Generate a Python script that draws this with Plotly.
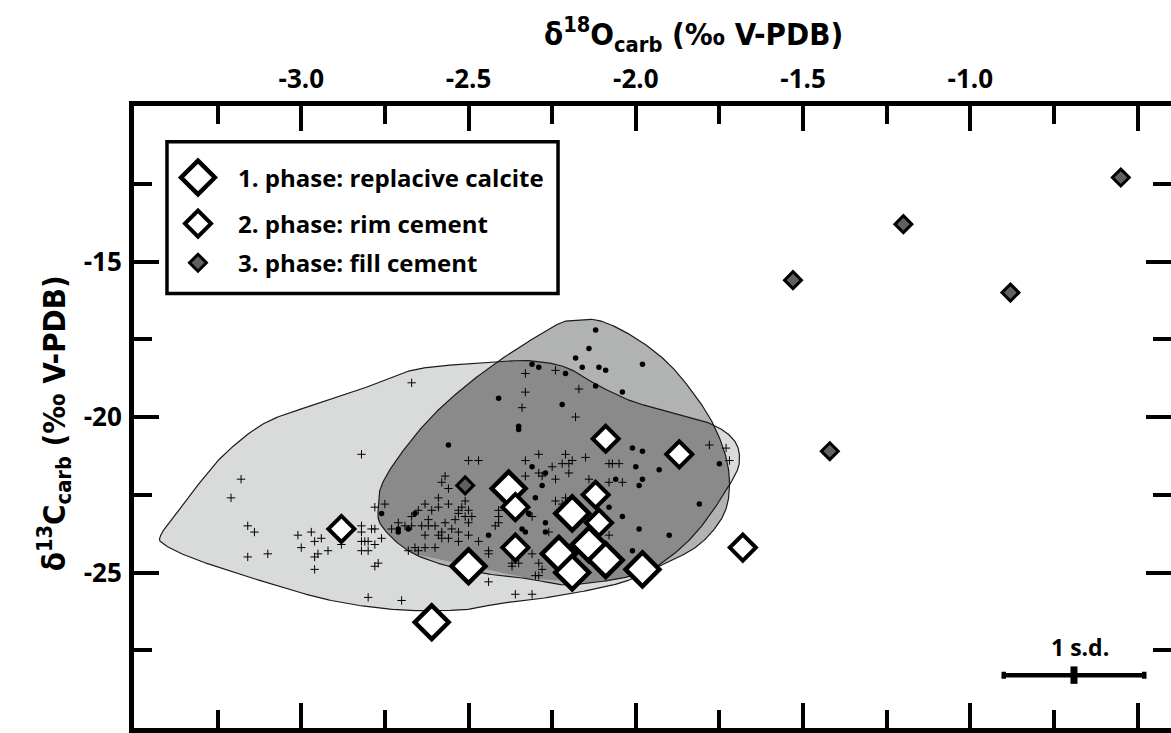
import numpy as np
import plotly.graph_objects as go

# ---------------- data ----------------
phase1_x = [-2.38, -2.50, -2.61, -2.19, -2.23, -2.14, -2.19, -2.09, -1.98]
phase1_y = [-22.3, -24.8, -26.6, -23.1, -24.4, -24.1, -25.0, -24.6, -24.9]

phase2_x = [-2.88, -2.36, -2.36, -2.09, -1.87, -2.12, -2.11, -1.68]
phase2_y = [-23.6, -22.9, -24.2, -20.7, -21.2, -22.5, -23.4, -24.2]

phase3_x = [-0.55, -1.20, -1.53, -0.88, -1.42, -2.51]
phase3_y = [-12.3, -13.8, -15.6, -16.0, -21.1, -22.2]

cross_x = [-2.67, -2.82, -3.18, -3.21, -3.16, -3.14, -3.16, -3.10, -3.01, -2.97,
           -3.00, -2.96, -2.94, -2.95, -2.96, -2.92, -2.96, -2.88, -2.82, -2.82,
           -2.79, -2.78, -2.82, -2.81, -2.80, -2.78, -2.76, -2.82, -2.80, -2.77,
           -2.78, -2.80, -2.70, -2.78, -2.75, -2.50, -2.47, -2.57, -2.58, -2.56,
           -2.63, -2.59, -2.61, -2.59, -2.56, -2.53, -2.52, -2.51, -2.53, -2.50,
           -2.49, -2.51, -2.50, -2.65, -2.62, -2.67, -2.71, -2.73, -2.69, -2.67,
           -2.64, -2.62, -2.63, -2.60, -2.59, -2.58, -2.57, -2.55, -2.54, -2.53,
           -2.58, -2.56, -2.53, -2.60, -2.66, -2.68, -2.65, -2.63, -2.50, -2.44,
           -2.47, -2.44, -2.36, -2.33, -2.33, -2.33, -2.34, -2.33, -2.41, -2.41,
           -2.42, -2.41, -2.44, -2.37, -2.24, -2.17, -2.18, -2.29, -2.21, -2.19,
           -2.22, -2.20, -2.20, -2.15, -2.25, -2.29, -2.28, -2.24, -2.08, -2.07,
           -2.05, -2.14, -2.08, -2.04, -2.24, -2.22, -2.21, -2.31, -2.26, -2.08,
           -1.78, -1.73, -1.72, -2.31, -2.37, -2.35, -2.29, -2.28, -2.29, -2.30,
           -2.31]
cross_y = [-18.9, -21.2, -22.0, -22.6, -23.5, -23.7, -24.5, -24.4, -23.8, -23.7,
           -24.2, -24.0, -23.9, -24.4, -24.5, -24.3, -24.9, -24.1, -23.5, -23.7,
           -23.6, -23.6, -24.0, -24.0, -24.0, -24.1, -23.9, -24.3, -24.3, -24.7,
           -24.8, -25.8, -25.9, -22.9, -22.8, -21.4, -21.4, -21.9, -22.1, -22.3,
           -22.8, -22.6, -23.0, -22.9, -22.8, -23.0, -22.9, -22.7, -23.1, -23.0,
           -23.2, -23.2, -23.4, -23.0, -23.3, -23.2, -23.4, -23.6, -23.5, -23.5,
           -23.5, -23.5, -23.8, -23.5, -23.8, -23.7, -23.4, -23.6, -23.3, -23.7,
           -23.9, -23.9, -24.0, -24.2, -24.2, -24.3, -24.3, -24.2, -23.8, -24.4,
           -24.0, -25.3, -25.7, -21.4, -18.6, -19.2, -19.7, -21.9, -23.0, -23.2,
           -23.5, -23.4, -24.3, -24.8, -18.5, -19.1, -20.0, -21.2, -21.2, -21.4,
           -21.5, -21.5, -21.8, -21.3, -21.6, -21.8, -21.9, -22.0, -21.5, -21.5,
           -21.5, -22.0, -22.1, -22.1, -22.7, -22.8, -22.6, -23.2, -23.7, -23.8,
           -20.9, -21.0, -21.4, -24.4, -24.7, -24.7, -24.7, -24.9, -25.1, -25.1,
           -25.7]

dot_x = [-2.41, -2.35, -2.56, -2.76, -2.66, -2.71, -2.71, -2.68, -2.44, -2.34,
         -2.32, -2.33, -2.12, -2.14, -2.18, -2.16, -2.11, -2.09, -1.98, -2.31,
         -2.29, -2.21, -2.12, -2.04, -2.22, -2.35, -2.01, -1.98, -1.93, -2.00,
         -1.98, -1.99, -2.06, -1.75, -1.81, -2.31, -2.27, -2.28, -2.30, -2.08,
         -2.04, -1.99, -1.90, -2.01, -2.27, -2.27, -2.32]
dot_y = [-19.4, -20.4, -20.9, -23.1, -23.1, -23.6, -23.7, -23.6, -23.8, -23.6,
         -23.1, -23.7, -17.2, -17.8, -18.1, -18.4, -18.4, -18.5, -18.3, -18.3,
         -18.4, -18.6, -19.0, -19.2, -19.6, -20.3, -21.0, -21.1, -21.7, -21.6,
         -22.0, -22.2, -22.0, -21.5, -22.8, -21.6, -21.8, -22.2, -22.6, -22.9,
         -23.2, -23.6, -23.8, -24.3, -23.4, -23.7, -23.1]

# envelope outlines of the two comparison data fields
env_light_x = [-3.42, -3.38, -3.31, -3.23, -3.11, -2.96, -2.82, -2.67, -2.52, -2.38,
               -2.31, -2.21, -2.11, -2.01, -1.91, -1.78, -1.71, -1.69, -1.71, -1.81,
               -1.91, -2.01, -2.11, -2.26, -2.41, -2.52, -2.71, -2.91, -3.11, -3.31,
               -3.41]
env_light_y = [-23.8, -23.2, -22.2, -21.2, -20.2, -19.6, -19.1, -18.5, -18.3, -18.2,
               -18.2, -18.4, -19.0, -19.5, -19.8, -20.2, -20.7, -21.3, -22.0, -23.6,
               -24.6, -25.2, -25.5, -25.8, -26.0, -26.2, -26.2, -25.9, -25.3, -24.6,
               -24.1]
env_dark_x = [-2.19, -2.11, -2.01, -1.91, -1.83, -1.77, -1.73, -1.72, -1.74, -1.81,
              -1.91, -2.01, -2.11, -2.21, -2.32, -2.41, -2.56, -2.68, -2.76, -2.77,
              -2.76, -2.71, -2.62, -2.52, -2.41, -2.31, -2.23]
env_dark_y = [-16.9, -16.9, -17.4, -18.2, -19.2, -20.2, -21.3, -22.3, -23.2, -24.1,
              -24.7, -25.1, -25.3, -25.4, -25.2, -25.1, -24.8, -24.3, -23.5, -22.9,
              -22.2, -21.3, -20.1, -19.1, -18.2, -17.5, -17.0]

# analytical uncertainty (1 s.d.)
sd_center = (-0.69, -28.3)
sd_x, sd_y = 0.21, 0.28

x_tick_vals = [-3.0, -2.5, -2.0, -1.5, -1.0, -0.5]
x_tick_text = ["-3.0", "-2.5", "-2.0", "-1.5", "-1.0", ""]
y_tick_vals = [-25, -20, -15]
y_tick_text = ["-25", "-20", "-15"]
x_range = [-3.5, -0.4]
y_range = [-30, -10]

legend_labels = ["1. phase: replacive calcite", "2. phase: rim cement", "3. phase: fill cement"]

# ---------------- helpers ----------------
def closed_spline(xs, ys, n=24):
    P = np.column_stack([xs, ys]).astype(float)
    m = len(P)
    t = np.linspace(0, 1, n, endpoint=False)[:, None]
    t2, t3 = t * t, t * t * t
    out = []
    for i in range(m):
        p0, p1, p2, p3 = P[(i - 1) % m], P[i], P[(i + 1) % m], P[(i + 2) % m]
        out.append(0.5 * (2 * p1 + (-p0 + p2) * t + (2 * p0 - 5 * p1 + 4 * p2 - p3) * t2
                          + (-p0 + 3 * p1 - 3 * p2 + p3) * t3))
    return np.vstack(out)


def clip_polygon(subject, clipper):
    cl = list(map(tuple, clipper))
    area = sum(cl[i][0] * cl[(i + 1) % len(cl)][1] - cl[(i + 1) % len(cl)][0] * cl[i][1]
               for i in range(len(cl)))
    sgn = 1.0 if area > 0 else -1.0
    output = list(map(tuple, subject))
    for i in range(len(cl)):
        a, b = cl[i], cl[(i + 1) % len(cl)]
        inp, output = output, []
        if not inp:
            break

        def inside(p):
            return sgn * ((b[0] - a[0]) * (p[1] - a[1]) - (b[1] - a[1]) * (p[0] - a[0])) >= 0

        def inter(p, q):
            dx1, dy1 = q[0] - p[0], q[1] - p[1]
            dx2, dy2 = b[0] - a[0], b[1] - a[1]
            den = dx1 * dy2 - dy1 * dx2
            if den == 0:
                return q
            s = ((a[0] - p[0]) * dy2 - (a[1] - p[1]) * dx2) / den
            return (p[0] + s * dx1, p[1] + s * dy1)

        prev = inp[-1]
        for cur in inp:
            if inside(cur):
                if not inside(prev):
                    output.append(inter(prev, cur))
                output.append(cur)
            elif inside(prev):
                output.append(inter(prev, cur))
            prev = cur
    return np.array(output)


# ---------------- styles ----------------
LIGHT = "#d9dbda"
MID = "#b1b3b2"
DARK = "#8a8a8a"
FILL3 = "#606060"
TICKFONT = dict(family="Open Sans", size=26, color="black", weight="bold")
TITLEFONT = dict(family="Liberation Sans Narrow, DejaVu Sans Condensed, Roboto, sans-serif",
                 size=31, color="black", weight="bold")

light = closed_spline(env_light_x, env_light_y)
dark = closed_spline(env_dark_x, env_dark_y)
overlap = clip_polygon(light, dark)

fig = go.Figure()


def add_fill(poly, color):
    xs = list(poly[:, 0]) + [poly[0, 0]]
    ys = list(poly[:, 1]) + [poly[0, 1]]
    fig.add_trace(go.Scatter(x=xs, y=ys, mode="lines", fill="toself", fillcolor=color,
                             line=dict(width=0, color=color), hoverinfo="skip"))


def add_outline(poly):
    xs = list(poly[:, 0]) + [poly[0, 0]]
    ys = list(poly[:, 1]) + [poly[0, 1]]
    fig.add_trace(go.Scatter(x=xs, y=ys, mode="lines", line=dict(width=1.2, color="#1a1a1a"),
                             hoverinfo="skip"))


add_fill(light, LIGHT)
add_fill(dark, MID)
if len(overlap) > 2:
    add_fill(overlap, DARK)
add_outline(light)
add_outline(dark)

fig.add_trace(go.Scatter(x=cross_x, y=cross_y, mode="markers",
                         marker=dict(symbol="cross-thin-open", size=6, color="black",
                                     line=dict(width=1, color="black"))))
fig.add_trace(go.Scatter(x=dot_x, y=dot_y, mode="markers",
                         marker=dict(symbol="circle", size=5.5, color="black", line=dict(width=0))))

P1 = dict(symbol="diamond", size=26, color="white", line=dict(width=4.5, color="black"))
P2 = dict(symbol="diamond", size=20, color="white", line=dict(width=4, color="black"))
P3 = dict(symbol="diamond", size=13, color=FILL3, line=dict(width=3, color="black"))

fig.add_trace(go.Scatter(x=phase3_x, y=phase3_y, mode="markers", marker=P3, name=legend_labels[2]))
fig.add_trace(go.Scatter(x=phase1_x, y=phase1_y, mode="markers", marker=P1, name=legend_labels[0]))
fig.add_trace(go.Scatter(x=phase2_x, y=phase2_y, mode="markers", marker=P2, name=legend_labels[1]))

# ---- hand-made legend (fractions of the plotting area) ----
leg_fx = 0.0617
leg_fy = [0.885, 0.811, 0.748]
lx = x_range[0] + leg_fx * (x_range[1] - x_range[0])
ly = [y_range[0] + f * (y_range[1] - y_range[0]) for f in leg_fy]
for (m, yy) in zip([P1, P2, P3], ly):
    fig.add_trace(go.Scatter(x=[lx], y=[yy], mode="markers", marker=m, hoverinfo="skip"))
fig.add_shape(type="rect", xref="paper", yref="paper", x0=0.0318, x1=0.4089, y0=0.6986, y1=0.9426,
              line=dict(color="black", width=3.5), fillcolor="rgba(0,0,0,0)", layer="above")
for lab, f in zip(legend_labels, leg_fy):
    fig.add_annotation(x=0.0985, y=f, xref="paper", yref="paper", text=lab, showarrow=False,
                       xanchor="left", yanchor="middle",
                       font=dict(family="Open Sans", size=24, color="black", weight="bold"))

# ---- s.d. bar ----
fig.add_trace(go.Scatter(x=[sd_center[0]], y=[sd_center[1]], yaxis="y2", mode="markers",
                         marker=dict(size=1, color="black"),
                         error_x=dict(type="constant", value=sd_x, thickness=4.5, width=3.5, color="black"),
                         error_y=dict(type="constant", value=sd_y, thickness=7, width=0, color="black"),
                         hoverinfo="skip"))
fig.add_annotation(x=sd_center[0], y=sd_center[1], xref="x", yref="y", text="1 s.d.",
                   showarrow=False, yshift=28, xshift=6,
                   font=dict(family="Open Sans", size=23, color="black", weight="bold"))

# ---- axis titles ----
fig.add_annotation(x=0.54, y=1.0, xref="paper", yref="paper", yshift=96, yanchor="top",
                   xanchor="center",
                   text="δ<sup>18</sup>O<sub>carb</sub> (‰ V-PDB)", showarrow=False, font=TITLEFONT)
fig.add_annotation(x=0, y=0.49, xref="paper", yref="paper", xshift=-80, textangle=-90,
                   xanchor="center", yanchor="middle",
                   text="δ<sup>13</sup>C<sub>carb</sub> (‰ V-PDB)", showarrow=False, font=TITLEFONT)

minor_x = dict(tickmode="linear", tick0=-3.5, dtick=0.25, ticks="inside", ticklen=18,
               tickwidth=4, tickcolor="black", showgrid=False)
minor_y = dict(tickmode="linear", tick0=-30, dtick=2.5, ticks="inside", ticklen=18,
               tickwidth=4, tickcolor="black", showgrid=False)

fig.update_layout(
    width=1171, height=733,
    margin=dict(l=134, r=0, t=106, b=0),
    paper_bgcolor="white", plot_bgcolor="white",
    showlegend=False,
    xaxis=dict(range=x_range, side="top", showline=True, linewidth=5, linecolor="black",
               mirror="ticks", ticks="inside", ticklen=25, tickwidth=4, tickcolor="black",
               tickmode="array", tickvals=x_tick_vals, ticktext=x_tick_text, tickfont=TICKFONT,
               ticklabelstandoff=3, showgrid=False, zeroline=False, minor=minor_x),
    yaxis=dict(range=y_range, showline=True, linewidth=5, linecolor="black", mirror=False,
               ticks="inside", ticklen=25, tickwidth=4, tickcolor="black",
               tickmode="array", tickvals=y_tick_vals, ticktext=y_tick_text, tickfont=TICKFONT,
               ticklabelstandoff=2, showgrid=False, zeroline=False, minor=minor_y),
    yaxis2=dict(range=y_range, overlaying="y", side="right", showline=False,
                ticks="inside", ticklen=25, tickwidth=4, tickcolor="black",
                tickmode="array", tickvals=y_tick_vals, showticklabels=False,
                showgrid=False, zeroline=False, minor=minor_y),
)

fig.write_html("out.html")
